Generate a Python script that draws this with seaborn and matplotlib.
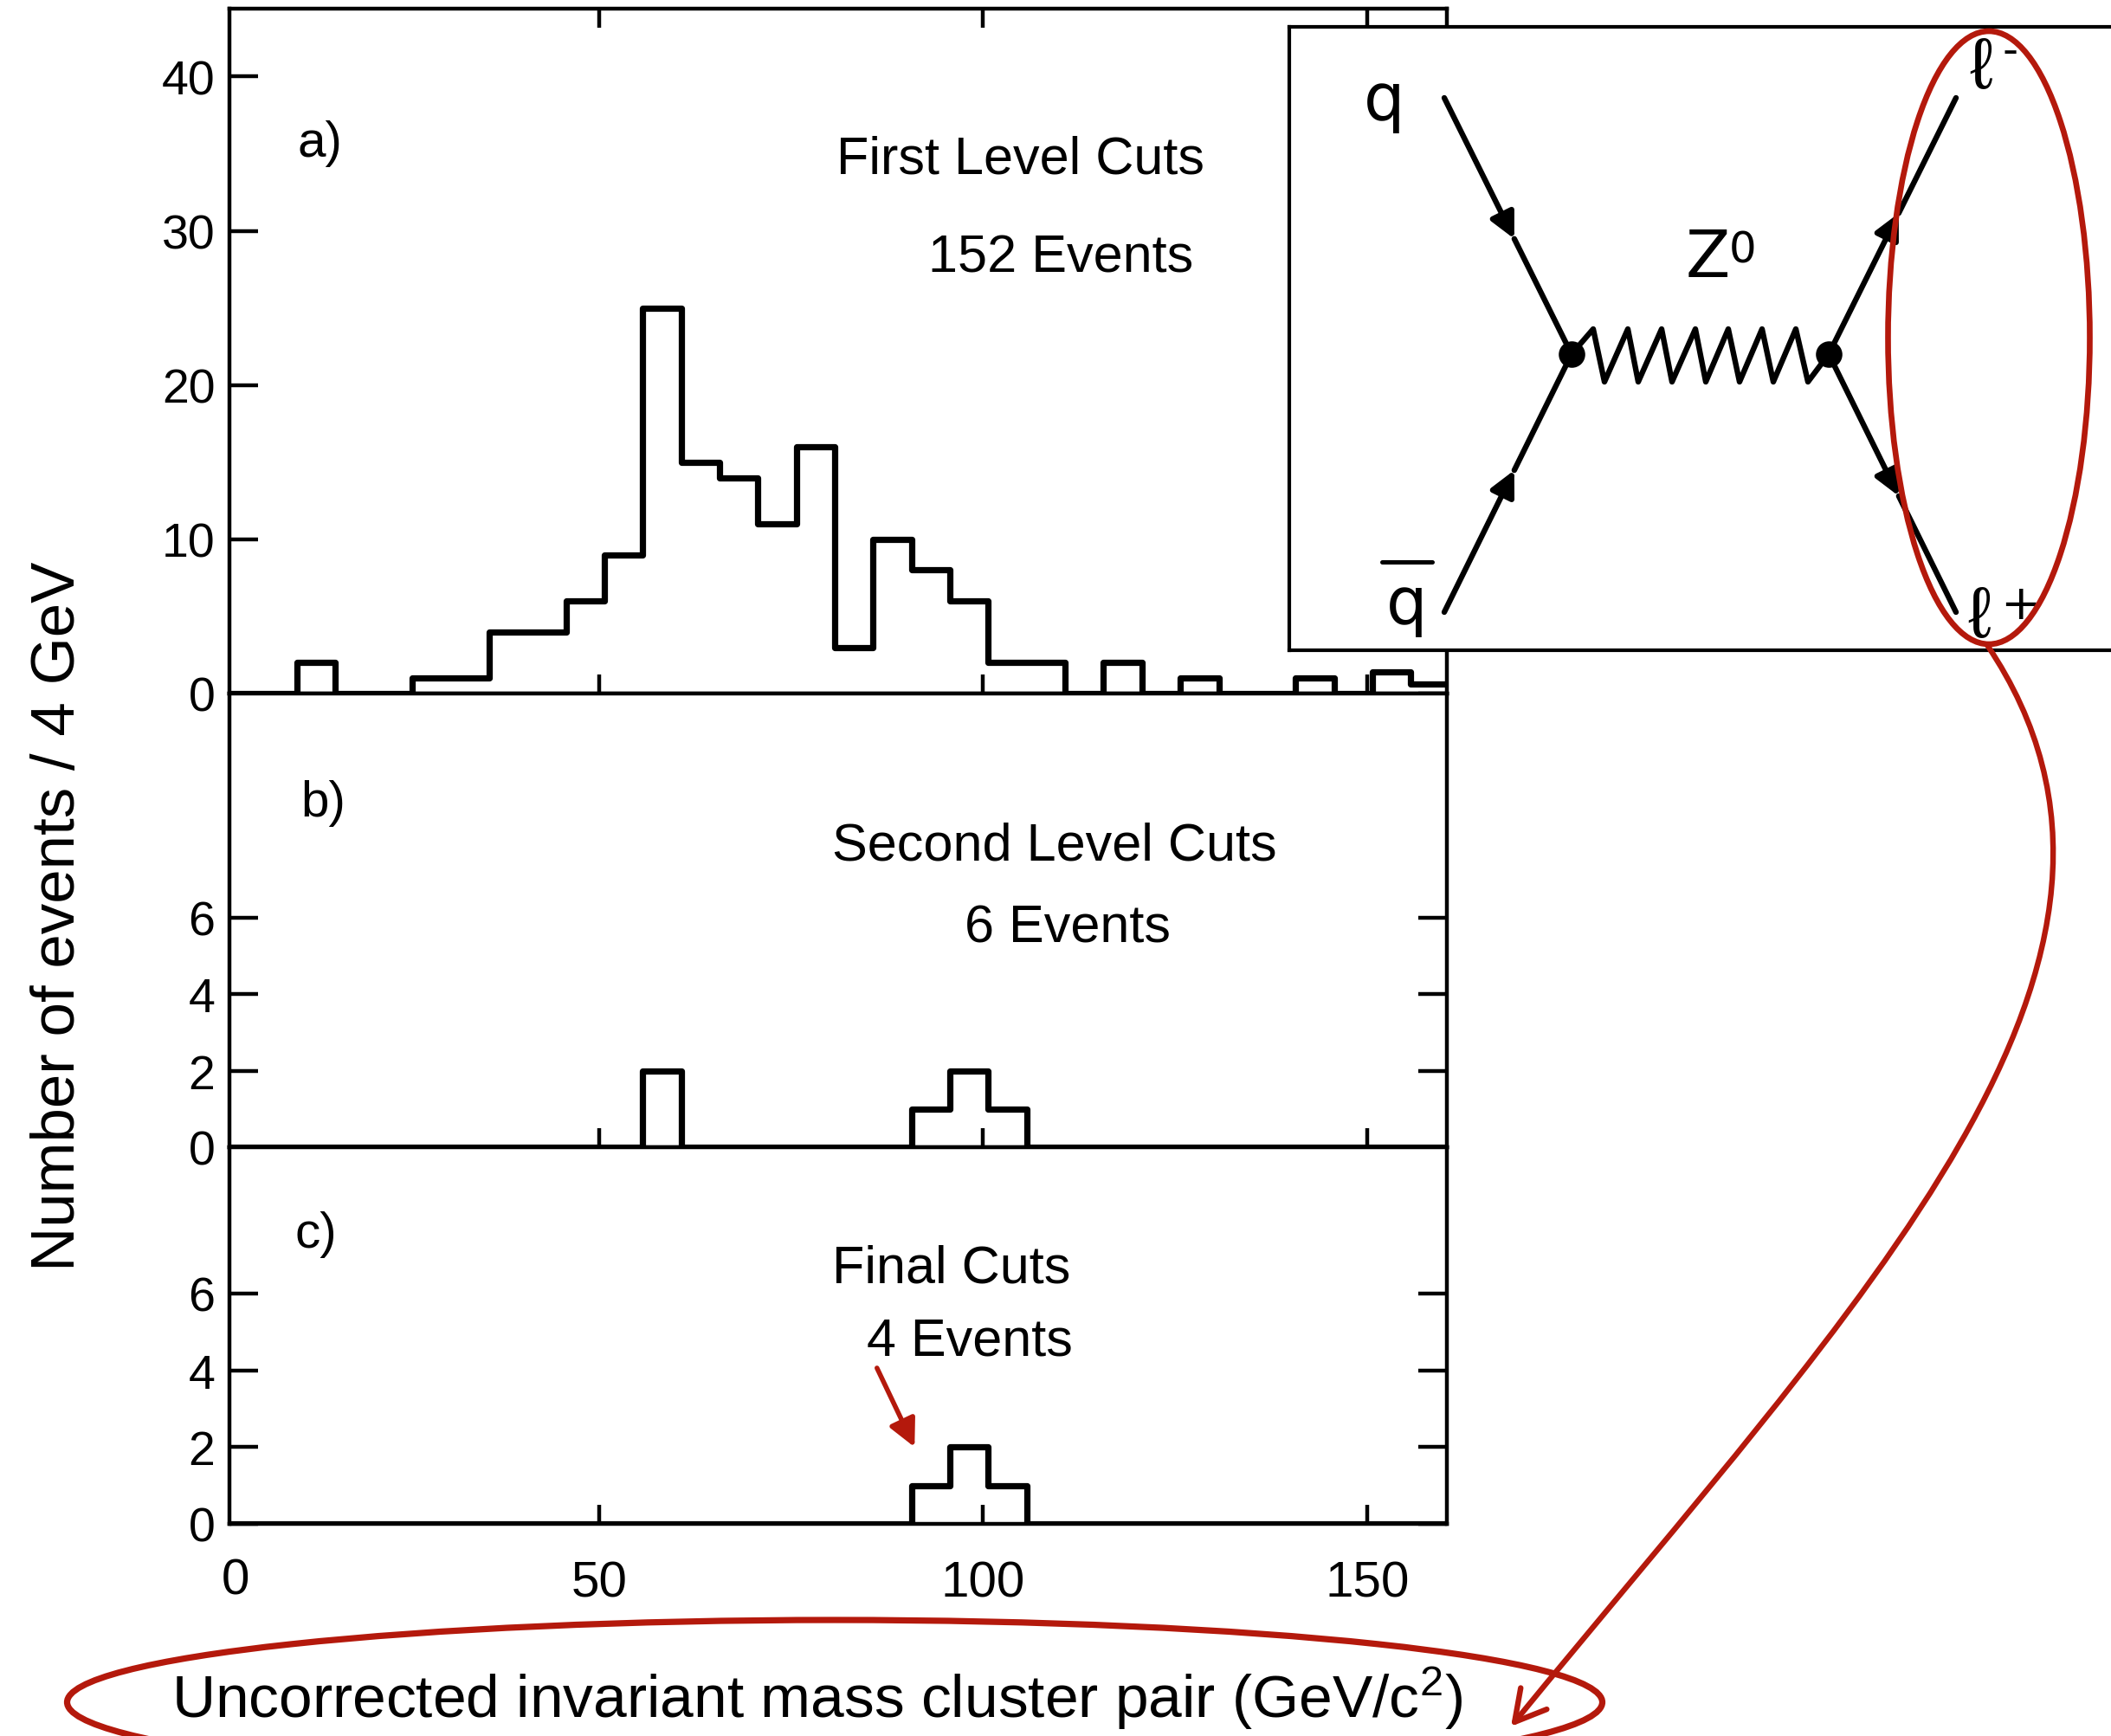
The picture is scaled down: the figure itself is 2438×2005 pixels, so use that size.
import numpy as np
import pandas as pd
import matplotlib
matplotlib.use("Agg")
import matplotlib.pyplot as plt
import seaborn as sns
from matplotlib.patches import Ellipse, FancyArrowPatch
from matplotlib.path import Path

# ------------------------------------------------------------------ data
mass_bin_edges = [0.7, 5.7, 10.7, 15.7, 20.7, 25.7, 30.7, 35.7, 40.7, 45.7,
                  50.7, 55.7, 60.7, 65.7, 70.7, 75.7, 80.7, 85.7, 90.7, 95.7,
                  100.7, 105.7, 110.7, 115.7, 120.7, 125.7, 130.7, 135.7,
                  140.7, 145.7, 150.7, 155.7, 160.7]
counts_first_level = [0, 0, 2, 0, 0, 1, 1, 4, 4, 6,
                      9, 25, 15, 14, 11, 16, 3, 10, 8, 6,
                      2, 2, 0, 2, 0, 1, 0, 0, 1, 0, 1.4, 0.6]
counts_second_level = [0, 0, 0, 0, 0, 0, 0, 0, 0, 0,
                       0, 2, 0, 0, 0, 0, 0, 0, 1, 2,
                       1, 0, 0, 0, 0, 0, 0, 0, 0, 0, 0, 0]
counts_final = [0, 0, 0, 0, 0, 0, 0, 0, 0, 0,
                0, 0, 0, 0, 0, 0, 0, 0, 1, 2,
                1, 0, 0, 0, 0, 0, 0, 0, 0, 0, 0, 0]
panel_tags = ["a)", "b)", "c)"]
panel_titles = ["First Level Cuts", "Second Level Cuts", "Final Cuts"]
panel_events = ["152 Events", "6 Events", "4 Events"]
yticks_a = [0, 10, 20, 30, 40]
yticks_bc = [0, 2, 4, 6]
xticks = [50, 100, 150]
xtick_labels = ["50", "100", "150"]
x_label = "Uncorrected invariant mass cluster pair (GeV/c$^2$)"
y_label = "Number of events / 4 GeV"

# ------------------------------------------------------------------ style
sns.set_theme(style="white")
plt.rcParams["font.family"] = ["Liberation Sans", "DejaVu Sans"]
plt.rcParams["mathtext.default"] = "regular"
plt.rcParams["text.color"] = "black"
plt.rcParams["axes.labelcolor"] = "black"
plt.rcParams["xtick.color"] = "black"
plt.rcParams["ytick.color"] = "black"
RED = "#B4190C"

W, H = 2438, 2006
fig = plt.figure(figsize=(W / 200, H / 200), dpi=200)
fig.patch.set_facecolor("white")


def fx(px):
    return px / W


def fy(py):
    return 1 - py / H


LEFT, RIGHT = 265, 1671
panels = [  # top, bottom (pixels), ylim top, yticks
    (11, 802, 44.4, yticks_a),
    (802, 1326, 11.86, yticks_bc),
    (1326, 1761, 9.81, yticks_bc),
]
all_counts = [counts_first_level, counts_second_level, counts_final]
edges = np.array(mass_bin_edges)
centers = (edges[:-1] + edges[1:]) / 2

axes = []
for i, ((top, bot, ytop, yt), cnt) in enumerate(zip(panels, all_counts)):
    ax = fig.add_axes([fx(LEFT), fy(bot), (RIGHT - LEFT) / W, (bot - top) / H])
    df = pd.DataFrame({"mass": centers, "n": cnt})
    sns.histplot(data=df, x="mass", weights="n", bins=mass_bin_edges,
                 element="step", fill=False, color="black", linewidth=2.6,
                 ax=ax)
    ax.set_xlim(1.9, 160.4)
    ax.set_ylim(0, ytop)
    ax.set_xlabel("")
    ax.set_ylabel("")
    ax.set_yticks(yt)
    ax.set_yticklabels([str(v) for v in yt])
    ax.set_xticks(xticks)
    ax.set_xticklabels(xtick_labels)
    for s in ax.spines.values():
        s.set_linewidth(1.6)
        s.set_color("black")
    ax.tick_params(axis="y", direction="in", length=12, width=1.6,
                   left=True, right=True, labelsize=20, pad=6,
                   colors="black", labelcolor="black")
    ax.tick_params(axis="x", direction="in", length=8, width=1.6,
                   bottom=True, top=(i == 0), labelbottom=(i == 2),
                   labelsize=21, pad=15, colors="black", labelcolor="black")
    ax.grid(False)
    axes.append(ax)

ax_a, ax_b, ax_c = axes
fig.text(fx(272), fy(1827), "0", fontsize=21, ha="center", va="center",
         color="black")

# panel annotations
tag_pos = [(369, 166), (373, 928), (365, 1426)]
title_pos = [(1179, 185), (1218, 978), (1099, 1466)]
event_pos = [(1225, 299), (1233, 1073), (1120, 1550)]
for t, p in zip(panel_tags, tag_pos):
    fig.text(fx(p[0]), fy(p[1]), t, fontsize=21, ha="center", va="center",
             color="black")
for t, p in zip(panel_titles, title_pos):
    fig.text(fx(p[0]), fy(p[1]), t, fontsize=22, ha="center", va="center",
             color="black")
for t, p in zip(panel_events, event_pos):
    fig.text(fx(p[0]), fy(p[1]), t, fontsize=22, ha="center", va="center",
             color="black")

ax_c.annotate("", xy=(91.1, 2.0), xytext=(86.2, 4.06),
              arrowprops=dict(arrowstyle="-|>", color=RED, lw=2.0,
                              mutation_scale=24, shrinkA=0, shrinkB=0))

fig.text(fx(68), fy(1058), y_label, rotation=90, fontsize=25.5,
         ha="center", va="center", color="black")
fig.text(fx(944), fy(1962), x_label, fontsize=25, ha="center", va="center",
         color="black")

# ------------------------------------------------------------------ inset diagram
ins = fig.add_axes([fx(1489), fy(752), (2470 - 1489) / W, (752 - 32) / H])
ins.set_zorder(5)
ins.set_facecolor("white")
ins.set_xlim(1489, 2470)
ins.set_ylim(752, 32)
ins.set_xticks([])
ins.set_yticks([])
for s in ins.spines.values():
    s.set_linewidth(1.5)
    s.set_color("black")

LW = 2.3
vL, vR = (1815, 410), (2112, 410)
legs = [((1668, 114), vL, True), ((1668, 708), vL, True),
        (vR, (2259, 114), False), (vR, (2259, 708), False)]
for start, end, incoming in legs:
    s = np.array(start, float)
    e = np.array(end, float)
    tip = s + 0.55 * (e - s)
    ins.annotate("", xy=tuple(tip), xytext=tuple(s),
                 arrowprops=dict(arrowstyle="-|>", color="black", lw=LW,
                                 mutation_scale=22, shrinkA=0, shrinkB=0))
    ins.plot([tip[0], e[0]], [tip[1], e[1]], color="black", lw=LW,
             solid_capstyle="round")

zig_x = [1815, 1840, 1853, 1880, 1892, 1919, 1931, 1958, 1970, 1996, 2009,
         2035, 2048, 2074, 2088, 2112]
zig_y = [410, 381, 442, 381, 442, 381, 442, 381, 442, 381, 442,
         381, 442, 381, 442, 410]
ins.plot(zig_x, zig_y, color="black", lw=LW, solid_joinstyle="round")
ins.plot([vL[0], vR[0]], [vL[1], vR[1]], "o", color="black", ms=10)

DV = ["DejaVu Sans"]
ins.text(1599, 118, "q", fontsize=27, ha="center", va="center", family=DV,
         color="black")
ins.text(1625, 700, "q", fontsize=27, ha="center", va="center", family=DV,
         color="black")
ins.plot([1596, 1654], [650, 650], color="black", lw=1.8)
ins.text(1972, 300, "Z", fontsize=27, ha="center", va="center", family=DV,
         color="black")
ins.text(2013, 290, "0", fontsize=18, ha="center", va="center", family=DV,
         color="black")
ins.text(2288, 80, r"$\ell$", fontsize=30, ha="center", va="center",
         math_fontfamily="stix", color="black")
ins.text(2322, 60, "-", fontsize=18, ha="center", va="center", family=DV,
         color="black")
ins.text(2286, 714, r"$\ell$", fontsize=30, ha="center", va="center",
         math_fontfamily="stix", color="black")
ins.text(2333, 700, "+", fontsize=20, ha="center", va="center", family=DV,
         color="black")

# ------------------------------------------------------------------ red overlay
ov = fig.add_axes([0, 0, 1, 1])
ov.set_zorder(10)
ov.patch.set_alpha(0)
ov.set_xlim(0, W)
ov.set_ylim(H, 0)
ov.axis("off")
ov.add_patch(Ellipse((2297, 391), 233, 708, fill=False, ec=RED, lw=2.4))
ov.add_patch(Ellipse((964, 1967), 1773, 190, fill=False, ec=RED, lw=2.6))
curve = Path([(2295, 746), (2540, 1110), (2150, 1500), (1745, 1995)],
             [Path.MOVETO, Path.CURVE4, Path.CURVE4, Path.CURVE4])
ov.add_patch(FancyArrowPatch(path=curve,
                             arrowstyle="->,head_length=0.45,head_width=0.25",
                             mutation_scale=28, color=RED, lw=2.3))

fig.savefig("out.png", dpi=200, facecolor="white")
